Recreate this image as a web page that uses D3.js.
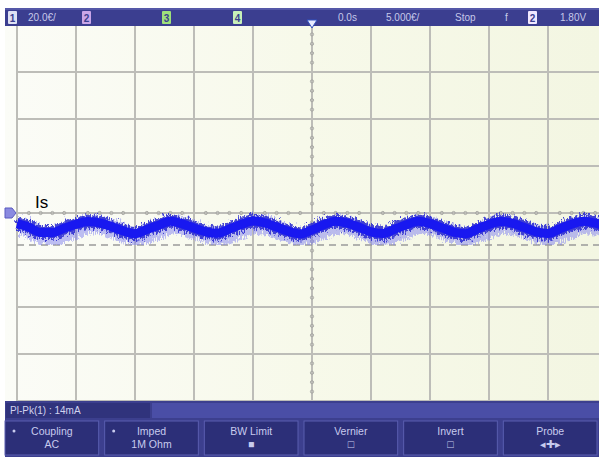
<!DOCTYPE html>
<html><head><meta charset="utf-8">
<script src="https://cdn.jsdelivr.net/npm/d3@7"></script>
<style>body{margin:0;background:#fff;overflow:hidden}svg{display:block}</style>
</head><body>
<script>
// ---- data ----
const timeUs = d3.range(-25, 26, 1); // sample times, µs
const currentMA = [-4.5,-6.0,-8.3,-8.3,-6.5,-4.8,-3.6,-4.2,-5.8,-7.6,-8.8,-7.0,-5.2,-3.5,-4.6,-6.4,-8.0,-8.6,-6.8,-4.9,-3.4,-4.2,-6.0,-7.8,-8.9,-7.2,-5.0,-3.5,-4.3,-6.1,-8.0,-8.7,-6.9,-5.0,-3.5,-4.5,-6.3,-8.1,-8.8,-6.8,-4.9,-3.6,-4.4,-6.2,-8.0,-8.7,-6.7,-4.8,-3.5,-4.3,-6.0];
const cursorMA = [-13.6];
const topLabels = [
  {t:"20.0€/", x:28},{t:"0.0s", x:338},{t:"5.000€/", x:386},{t:"Stop", x:455},{t:"f", x:505},{t:"1.80V", x:560}
];
const channelBoxes = [{t:"1",x:8,c:"#dfe2f4"},{t:"2",x:82,c:"#c9a6e8"},{t:"3",x:162,c:"#9ee07a"},{t:"4",x:233,c:"#c8f0b8"},{t:"2",x:528,c:"#f0e8ff"}];
const buttons = [
  {l1:"Coupling", l2:"AC", dot:true},
  {l1:"Imped", l2:"1M Ohm", dot:true},
  {l1:"BW Limit", l2:"■"},
  {l1:"Vernier", l2:"□"},
  {l1:"Invert", l2:"□"},
  {l1:"Probe", l2:"◂✚▸"}
];
const measureLabel = "Pl-Pk(1) : 14mA";
const traceLabel = "Is";

// ---- drawing ----
const W=599,H=457;
const svg=d3.select("body").append("svg").attr("width",W).attr("height",H);
const plot={l:17,r:607,t:25,b:401};
const x=d3.scaleLinear().domain([-25,25]).range([plot.l,plot.r]);
const y=d3.scaleLinear().domain([80,-80]).range([plot.t,plot.b]);

const defs=svg.append("defs");
const g=defs.append("linearGradient").attr("id","bg").attr("x1",0).attr("x2",1);
g.append("stop").attr("offset",0).attr("stop-color","#fbfcf7");
g.append("stop").attr("offset",0.5).attr("stop-color","#f7f9ea");
g.append("stop").attr("offset",1).attr("stop-color","#f3f6e2");
const f=defs.append("filter").attr("id","noise").attr("x","-5%").attr("y","-80%").attr("width","110%").attr("height","260%");
f.append("feTurbulence").attr("type","fractalNoise").attr("baseFrequency","0.7 0.25").attr("numOctaves",2).attr("seed",3).attr("result","n");
f.append("feDisplacementMap").attr("in","SourceGraphic").attr("in2","n").attr("scale",12).attr("xChannelSelector","R").attr("yChannelSelector","G");
const f2=defs.append("filter").attr("id","noise2").attr("x","-5%").attr("y","-80%").attr("width","110%").attr("height","260%");
f2.append("feTurbulence").attr("type","turbulence").attr("baseFrequency","0.5 0.15").attr("numOctaves",1).attr("seed",7).attr("result","n");
f2.append("feDisplacementMap").attr("in","SourceGraphic").attr("in2","n").attr("scale",10).attr("xChannelSelector","R").attr("yChannelSelector","G");

svg.append("rect").attr("x",5).attr("y",8).attr("width",W-5).attr("height",plot.b-8).attr("fill","url(#bg)");

// grid
const xt=d3.range(-25,26,5), yt=d3.range(-80,81,20);
svg.append("g").selectAll("line").data(xt).join("line")
  .attr("x1",d=>x(d)).attr("x2",d=>x(d)).attr("y1",plot.t).attr("y2",plot.b)
  .attr("stroke","#bdbdb8").attr("stroke-width",2);
svg.append("g").selectAll("line").data(yt).join("line")
  .attr("y1",d=>y(d)).attr("y2",d=>y(d)).attr("x1",plot.l).attr("x2",W)
  .attr("stroke","#bdbdb8").attr("stroke-width",2);
// minor ticks on center lines
const mx=d3.range(-25,25.01,1).filter(d=>d%5!==0);
svg.append("g").selectAll("circle").data(mx).join("circle")
  .attr("cx",d=>x(d)).attr("cy",y(0)).attr("r",1.6).attr("fill","none").attr("stroke","#a8a8a4").attr("stroke-width",1);
const my=d3.range(-80,80.01,4).filter(d=>d%20!==0);
svg.append("g").selectAll("circle").data(my).join("circle")
  .attr("cx",x(0)).attr("cy",d=>y(d)).attr("r",1.6).attr("fill","none").attr("stroke","#a8a8a4").attr("stroke-width",1);

// cursor dashed line
svg.append("g").selectAll("line").data(cursorMA).join("line")
  .attr("x1",plot.l).attr("x2",W).attr("y1",d=>y(d)).attr("y2",d=>y(d))
  .attr("stroke","#9a9a9a").attr("stroke-width",1.6).attr("stroke-dasharray","7,5");

// waveform
const pts=timeUs.map((t,i)=>[t,currentMA[i]]);
const line=d3.line().x(d=>x(d[0])).y(d=>y(d[1])).curve(d3.curveMonotoneX);
svg.append("path").attr("d",line(pts)).attr("fill","none").attr("stroke","#8080f0").attr("stroke-width",18).attr("opacity",0.5).attr("filter","url(#noise2)");
svg.append("path").attr("d",line(pts)).attr("fill","none").attr("stroke","#2a2ad0").attr("stroke-width",13).attr("opacity",0.85).attr("filter","url(#noise)");
svg.append("path").attr("d",line(pts)).attr("fill","none").attr("stroke","#1818f0").attr("stroke-width",9);

// ground marker
svg.append("path").attr("d",`M5,${y(0)-5} L12,${y(0)-5} L16,${y(0)} L12,${y(0)+5} L5,${y(0)+5} Z`).attr("fill","#8a8ae0").attr("stroke","#5a5ac0");
// trace label
svg.append("text").attr("x",35).attr("y",y(0)-5).text(traceLabel).attr("font-family","Liberation Sans, Arial").attr("font-size",17).attr("fill","#000");

// top bar
svg.append("rect").attr("x",5).attr("y",8).attr("width",W-5).attr("height",18).attr("fill","#3b3e90");
svg.append("rect").attr("x",5).attr("y",8).attr("width",W-5).attr("height",2).attr("fill","#5558a8");
svg.append("g").selectAll("rect").data(channelBoxes).join("rect")
  .attr("x",d=>d.x).attr("y",11).attr("width",9).attr("height",13).attr("fill",d=>d.c).attr("rx",1);
svg.append("g").selectAll("text").data(channelBoxes).join("text")
  .attr("x",d=>d.x+4.5).attr("y",22).attr("text-anchor","middle").text(d=>d.t)
  .attr("font-family","Liberation Sans, Arial").attr("font-size",10).attr("font-weight","bold").attr("fill","#3b3e90");
svg.append("g").selectAll("text").data(topLabels).join("text")
  .attr("x",d=>d.x).attr("y",21).text(d=>d.t)
  .attr("font-family","Liberation Sans, Arial").attr("font-size",10).attr("fill","#c6c9ea");
// trigger marker
svg.append("path").attr("d",`M${x(0)-5},20 L${x(0)+5},20 L${x(0)},28 Z`).attr("fill","#e8ecff").attr("stroke","#3050c0");

// bottom bar
svg.append("rect").attr("x",5).attr("y",plot.b).attr("width",W-5).attr("height",H-plot.b).attr("fill","#3c3f8e");
svg.append("rect").attr("x",152).attr("y",plot.b+2).attr("width",W-152).attr("height",15).attr("fill","#4a4ea6");
svg.append("rect").attr("x",6).attr("y",plot.b+2).attr("width",144).attr("height",15).attr("fill","#30337c");
svg.append("text").attr("x",10).attr("y",plot.b+13).text(measureLabel)
  .attr("font-family","Liberation Sans, Arial").attr("font-size",10).attr("fill","#d0d2ee");
const bx=d3.scaleBand().domain(d3.range(buttons.length)).range([5,597]).paddingInner(0.06);
const bg=svg.append("g").selectAll("g").data(buttons).join("g").attr("transform",(d,i)=>`translate(${bx(i)},421)`);
bg.append("rect").attr("width",bx.bandwidth()).attr("height",34).attr("fill","#2c2f78").attr("stroke","#5a5eb0").attr("stroke-width",1);
bg.append("text").attr("x",bx.bandwidth()/2).attr("y",14).attr("text-anchor","middle").text(d=>d.l1)
  .attr("font-family","Liberation Sans, Arial").attr("font-size",10.5).attr("fill","#c8cbee");
bg.append("text").attr("x",bx.bandwidth()/2).attr("y",27).attr("text-anchor","middle").text(d=>d.l2)
  .attr("font-family","Liberation Sans, Arial").attr("font-size",10.5).attr("fill","#c8cbee");
bg.filter(d=>d.dot).append("circle").attr("cx",9).attr("cy",10).attr("r",1.5).attr("fill","#c8cbee");
</script>
</body></html>
